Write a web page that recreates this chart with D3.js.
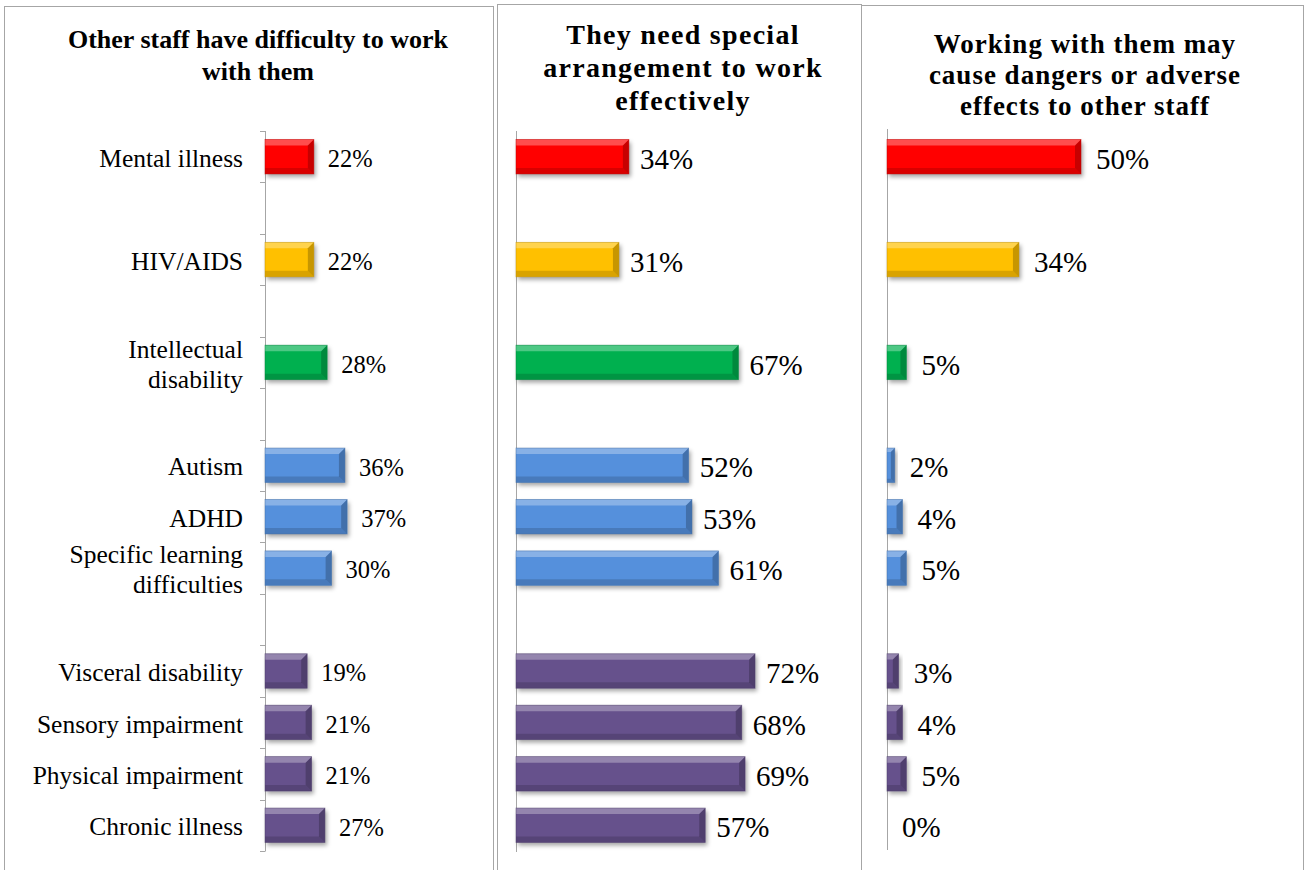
<!DOCTYPE html>
<html>
<head>
<meta charset="utf-8">
<script src="https://cdn.jsdelivr.net/npm/d3@7"></script>
<style>
  html, body { margin: 0; padding: 0; background: #fff; }
  svg { display: block; }
</style>
</head>
<body>
<svg id="chart" width="1307" height="870"></svg>
<script>
// ---------- DATA ----------
const categories = ["Mental illness", "", "HIV/AIDS", "", "Intellectual disability", "",
  "Autism", "ADHD", "Specific learning difficulties", "",
  "Visceral disability", "Sensory impairment", "Physical impairment", "Chronic illness"];
const categoryLines = [["Mental illness"], [], ["HIV/AIDS"], [], ["Intellectual", "disability"], [],
  ["Autism"], ["ADHD"], ["Specific learning", "difficulties"], [],
  ["Visceral disability"], ["Sensory impairment"], ["Physical impairment"], ["Chronic illness"]];
const groups = ["mental", null, "hiv", null, "intellectual", null,
  "dev", "dev", "dev", null, "physical", "physical", "physical", "physical"];
const difficultyValues = [22, null, 22, null, 28, null, 36, 37, 30, null, 19, 21, 21, 27];
const arrangementValues = [34, null, 31, null, 67, null, 52, 53, 61, null, 72, 68, 69, 57];
const dangerValues = [50, null, 34, null, 5, null, 2, 4, 5, null, 3, 4, 5, 0];
const titles1 = ["Other staff have difficulty to work", "with them"];
const titles2 = ["They need special", "arrangement to work", "effectively"];
const titles3 = ["Working with them may", "cause dangers or adverse", "effects to other staff"];
const groupColors = { mental: "#ff0000", hiv: "#ffc000", intellectual: "#00b050", dev: "#5590dc", physical: "#66518c" };

// ---------- SETUP ----------
const svg = d3.select("#chart");
const defs = svg.append("defs");
const f = defs.append("filter").attr("id", "shadow").attr("x", "-20%").attr("y", "-30%").attr("width", "150%").attr("height", "180%");
f.append("feDropShadow").attr("dx", 2).attr("dy", 3).attr("stdDeviation", 2).attr("flood-color", "#000").attr("flood-opacity", 0.35);

const serif = "'Liberation Serif', 'Times New Roman', serif";

// panel frames
const frames = [
  { x: 4.5, y: 6.5, w: 489, h: 880 },
  { x: 497.5, y: 4.5, w: 364, h: 880 },
  { x: 861.5, y: 5.5, w: 442, h: 880 }
];
svg.selectAll("rect.frame").data(frames).join("rect")
  .attr("class", "frame")
  .attr("x", d => d.x).attr("y", d => d.y).attr("width", d => d.w).attr("height", d => d.h)
  .attr("fill", "none").attr("stroke", "#a6a6a6").attr("stroke-width", 1);

const y = d3.scaleBand().domain(d3.range(categories.length)).range([131, 851]).paddingInner(0.33).paddingOuter(0.165);
const yStep = d3.scaleBand().domain(d3.range(categories.length)).range([131, 851]);

function drawBars(g, values, x, labelSize, labelGap) {
  const rows = values.map((v, i) => ({ v, i })).filter(d => d.v !== null);
  const bars = g.selectAll("g.bar").data(rows).join("g").attr("class", "bar");
  bars.each(function (d) {
    const sel = d3.select(this);
    const x0 = x(0), x1 = x(d.v);
    const y0 = y(d.i), y1 = y(d.i) + y.bandwidth();
    const w = x1 - x0;
    const col = groupColors[groups[d.i]];
    if (w > 0) {
      const b = Math.min(6, w / 2);
      sel.append("rect").attr("x", x0).attr("y", y0).attr("width", w).attr("height", y1 - y0)
        .attr("fill", col).attr("filter", "url(#shadow)");
      sel.append("polygon").attr("points", [[x0, y0], [x1, y0], [x1 - b, y0 + b], [x0, y0 + b]].join(" "))
        .attr("fill", "#fff").attr("opacity", 0.3);
      sel.append("polygon").attr("points", [[x1, y0], [x1, y1], [x1 - b, y1 - b], [x1 - b, y0 + b]].join(" "))
        .attr("fill", "#000").attr("opacity", 0.22);
      sel.append("polygon").attr("points", [[x0, y1], [x1, y1], [x1 - b, y1 - b], [x0, y1 - b]].join(" "))
        .attr("fill", "#000").attr("opacity", 0.15);
      sel.append("rect").attr("x", x0).attr("y", y0).attr("width", w).attr("height", y1 - y0)
        .attr("fill", "none").attr("stroke", d3.color(col).darker(0.8)).attr("stroke-width", 0.8).attr("opacity", 0.6);
    }
    sel.append("text")
      .attr("x", x1 + labelGap).attr("y", y0 + y.bandwidth() / 2)
      .attr("dy", "0.42em")
      .attr("font-family", serif).attr("font-size", labelSize)
      .attr("fill", "#000")
      .text(d.v + "%");
  });
}

function drawTitle(lines, cx, y0, lh, size, spacing) {
  const t = svg.append("text").attr("text-anchor", "middle").attr("font-family", serif)
    .attr("font-weight", "bold").attr("font-size", size).attr("letter-spacing", spacing).attr("fill", "#000");
  t.selectAll("tspan").data(lines).join("tspan").attr("x", cx).attr("y", (d, i) => y0 + i * lh).text(d => d);
}

// ---------- PANEL 1 ----------
const x1s = d3.scaleLinear().domain([0, 100]).range([265, 487]);
const g1 = svg.append("g");
g1.append("line").attr("x1", 265.5).attr("x2", 265.5).attr("y1", 131).attr("y2", 851).attr("stroke", "#a6a6a6");
g1.selectAll("line.tick").data(d3.range(categories.length + 1)).join("line").attr("class", "tick")
  .attr("x1", 260).attr("x2", 265.5)
  .attr("y1", d => Math.round(d < categories.length ? yStep(d) : yStep(categories.length - 1) + yStep.bandwidth()) + 0.5)
  .attr("y2", d => Math.round(d < categories.length ? yStep(d) : yStep(categories.length - 1) + yStep.bandwidth()) + 0.5)
  .attr("stroke", "#a6a6a6");
const lab = g1.selectAll("text.cat").data(categoryLines.map((l, i) => ({ l, i })).filter(d => d.l.length)).join("text")
  .attr("class", "cat").attr("text-anchor", "end").attr("font-family", serif).attr("font-size", 25.5).attr("fill", "#000");
lab.each(function (d) {
  const cy = yStep(d.i) + yStep.bandwidth() / 2;
  const lh = 30;
  const start = cy - (d.l.length - 1) * lh / 2;
  d3.select(this).selectAll("tspan").data(d.l).join("tspan")
    .attr("x", 243).attr("y", (t, k) => start + k * lh).attr("dy", "0.4em").text(t => t);
});
drawBars(g1, difficultyValues, x1s, 24.5, 14);
drawTitle(titles1, 258, 48, 32, 26, 0);

// ---------- PANEL 2 ----------
const x2s = d3.scaleLinear().domain([0, 100]).range([516, 848]);
const g2 = svg.append("g");
g2.append("line").attr("x1", 516.5).attr("x2", 516.5).attr("y1", 131).attr("y2", 852).attr("stroke", "#a6a6a6");
drawBars(g2, arrangementValues, x2s, 29, 11);
drawTitle(titles2, 683, 44, 33, 28, 1.3);

// ---------- PANEL 3 ----------
const x3s = d3.scaleLinear().domain([0, 100]).range([887, 1275]);
const g3 = svg.append("g");
g3.append("line").attr("x1", 887.5).attr("x2", 887.5).attr("y1", 129).attr("y2", 850).attr("stroke", "#a6a6a6");
drawBars(g3, dangerValues, x3s, 29, 15);
drawTitle(titles3, 1085, 53, 31, 27, 1.0);
</script>
</body>
</html>
